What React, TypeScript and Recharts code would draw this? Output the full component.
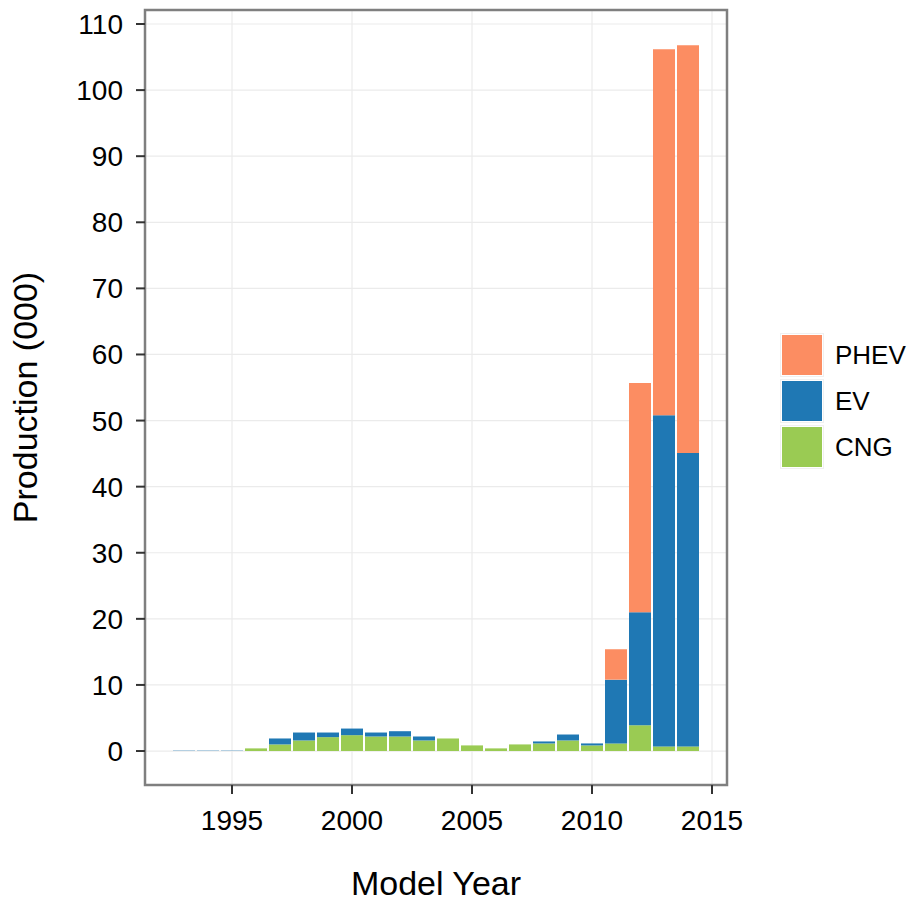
import React from "react";
import {
  BarChart,
  Bar,
  XAxis,
  YAxis,
  CartesianGrid,
  ReferenceArea,
} from "recharts";

const years = [
  1993, 1994, 1995, 1996, 1997, 1998, 1999, 2000, 2001, 2002, 2003, 2004,
  2005, 2006, 2007, 2008, 2009, 2010, 2011, 2012, 2013, 2014,
];
const cng = [
  0, 0, 0, 0.4, 1.0, 1.6, 2.1, 2.4, 2.2, 2.2, 1.6, 1.9, 0.85, 0.4, 1.0, 1.15,
  1.6, 0.85, 1.15, 3.9, 0.7, 0.7,
];
const ev = [
  0.05, 0.05, 0.05, 0, 0.9, 1.2, 0.7, 1.0, 0.6, 0.8, 0.6, 0, 0, 0, 0, 0.3, 0.9,
  0.3, 9.65, 17.1, 50.1, 44.4,
];
const phev = [
  0, 0, 0, 0, 0, 0, 0, 0, 0, 0, 0, 0, 0, 0, 0, 0, 0, 0, 4.6, 34.7, 55.4, 61.7,
];

const xTicks = [1995, 2000, 2005, 2010, 2015];
const yTicks = [0, 10, 20, 30, 40, 50, 60, 70, 80, 90, 100, 110];
const xDomain = [1991.375, 2015.625];
const yDomain = [-5.14, 112.12];

const series = [
  { key: "phev", name: "PHEV", color: "#FC8D62" },
  { key: "ev", name: "EV", color: "#1F78B4" },
  { key: "cng", name: "CNG", color: "#9ACB53" },
];

const data = years.map((year, i) => ({
  year,
  cng: cng[i],
  ev: ev[i],
  phev: phev[i],
}));

const font = '"Liberation Sans", Arial, sans-serif';

export default function App() {
  return (
    <div
      style={{
        position: "absolute",
        left: 0,
        top: 0,
        width: 911,
        height: 901,
        background: "#fff",
        fontFamily: font,
      }}
    >
      <BarChart
        width={911}
        height={901}
        data={data}
        margin={{ top: 10, right: 184, bottom: 0, left: 0 }}
        barSize={22}
      >
        <CartesianGrid stroke="#ebebeb" strokeWidth={1.2} />
        <XAxis
          dataKey="year"
          type="number"
          domain={xDomain}
          ticks={xTicks}
          allowDataOverflow
          height={116}
          axisLine={false}
          tickSize={9}
          tickMargin={16}
          tickLine={{ stroke: "#333", strokeWidth: 2 }}
          tick={{ fill: "#000", fontSize: 28, fontFamily: font }}
          label={{
            value: "Model Year",
            position: "insideBottom",
            offset: 6,
            style: { fill: "#000", fontSize: 34, fontFamily: font },
          }}
        />
        <YAxis
          type="number"
          domain={yDomain}
          ticks={yTicks}
          allowDataOverflow
          width={145}
          axisLine={false}
          tickSize={9}
          tickMargin={13}
          tickLine={{ stroke: "#333", strokeWidth: 2 }}
          tick={{ fill: "#000", fontSize: 28, fontFamily: font }}
          label={{
            value: "Production (000)",
            angle: -90,
            position: "insideLeft",
            offset: 25,
            style: {
              fill: "#000",
              fontSize: 34,
              fontFamily: font,
              textAnchor: "middle",
            },
          }}
        />
        <Bar dataKey="cng" stackId="a" fill="#9ACB53" isAnimationActive={false} />
        <Bar dataKey="ev" stackId="a" fill="#1F78B4" isAnimationActive={false} />
        <Bar dataKey="phev" stackId="a" fill="#FC8D62" isAnimationActive={false} />
        <ReferenceArea
          x1={xDomain[0]}
          x2={xDomain[1]}
          y1={yDomain[0]}
          y2={yDomain[1]}
          fill="none"
          stroke="#7f7f7f"
          strokeWidth={2.5}
          ifOverflow="visible"
        />
      </BarChart>
      <div style={{ position: "absolute", left: 780, top: 332 }}>
        {series.map((s) => (
          <div
            key={s.key}
            style={{ display: "flex", alignItems: "center", height: 46 }}
          >
            <div
              style={{
                width: 44,
                height: 44,
                border: "1px solid #f0f0f0",
                boxSizing: "border-box",
                padding: 1,
                background: "#fff",
              }}
            >
              <div style={{ width: "100%", height: "100%", background: s.color }} />
            </div>
            <span style={{ marginLeft: 11, fontSize: 26, color: "#000" }}>
              {s.name}
            </span>
          </div>
        ))}
      </div>
    </div>
  );
}
